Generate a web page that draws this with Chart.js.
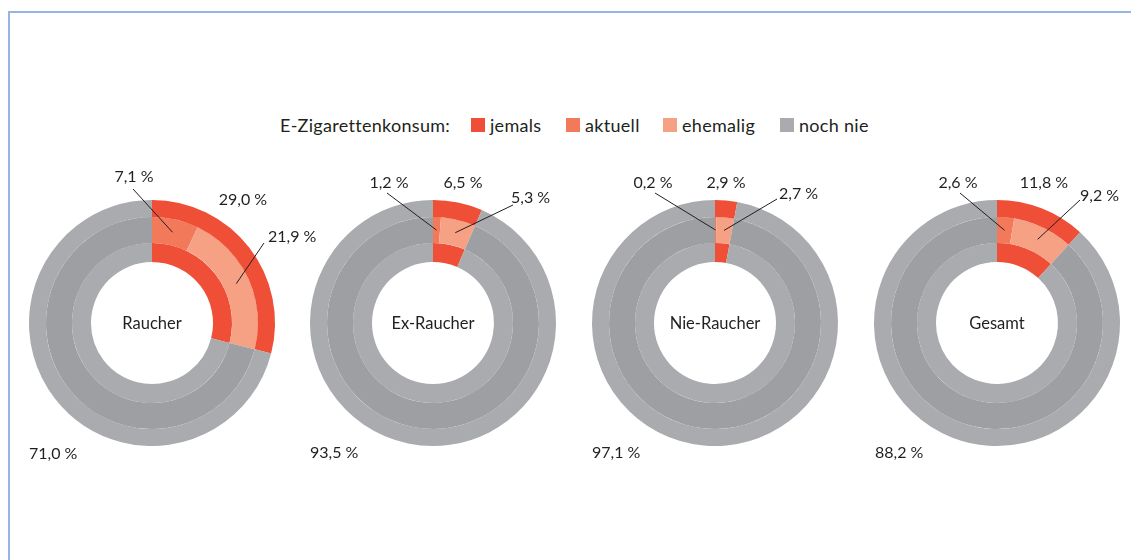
<!DOCTYPE html>
<html lang="de">
<head>
<meta charset="utf-8">
<title>E-Zigarettenkonsum</title>
<script src="https://cdn.jsdelivr.net/npm/chart.js@4.4.1/dist/chart.umd.min.js"></script>
<style>
  html, body { margin: 0; padding: 0; background: #fff; }
  body { width: 1131px; height: 560px; position: relative; overflow: hidden;
         font-family: Lato, "Open Sans", sans-serif; color: #231f20; }
  .frame { position: absolute; left: 8px; top: 11px; right: -10px; bottom: -10px;
           border-left: 2px solid #97b5e4; border-top: 2px solid #97b5e4; }
  .legend { position: absolute; top: 114px; left: 0; font-size: 18px; line-height: 22px;
            letter-spacing: 0.3px; }
  .legend span { position: absolute; white-space: nowrap; }
  .legend .box { width: 14px; height: 14px; top: 4px; }
  canvas { position: absolute; top: 150px; }
</style>
</head>
<body>
<div class="frame"></div>
<div class="legend" id="legend"></div>
<canvas id="c0" width="310" height="320"></canvas>
<canvas id="c1" width="310" height="320"></canvas>
<canvas id="c2" width="310" height="320"></canvas>
<canvas id="c3" width="310" height="320"></canvas>

<script>
// Daten (Anteile in %)
const gruppen  = ['Raucher', 'Ex-Raucher', 'Nie-Raucher', 'Gesamt'];
const jemals   = [29.0, 6.5, 2.9, 11.8];
const aktuell  = [7.1, 1.2, 0.2, 2.6];
const ehemalig = [21.9, 5.3, 2.7, 9.2];
const nochNie  = [71.0, 93.5, 97.1, 88.2];

const legendTitle = 'E-Zigarettenkonsum:';
const legendLabels = ['jemals', 'aktuell', 'ehemalig', 'noch nie'];

// Farben
const ROT = '#ef4e37';
const ORANGE = '#f27a5b';
const LACHS = '#f6a084';
const GRAU_HELL = '#aaabae';
const GRAU_DUNKEL = '#9e9fa3';
const legendColors = [ROT, ORANGE, LACHS, GRAU_HELL];

// Mittelpunkte der Ringe (x) - y ist für alle gleich
const centersX = [152, 433, 715, 997];

// Position der Beschriftungen relativ zum Mittelpunkt
// ds = Ring (0 außen, 1 Mitte, 2 innen), i = Segment
const labelLayout = [
  [
    { ds: 1, i: 0, x: -18, y: -146, align: 'center', from: [-19, -134] },
    { ds: 0, i: 0, x: 91,  y: -123, align: 'center' },
    { ds: 1, i: 1, x: 116, y: -86,  align: 'left', from: [112, -80] },
    { ds: 0, i: 1, x: -123, y: 131, align: 'left' }
  ],
  [
    { ds: 1, i: 0, x: -44, y: -140, align: 'center', from: [-46, -130] },
    { ds: 0, i: 0, x: 30,  y: -140, align: 'center' },
    { ds: 1, i: 1, x: 78,  y: -125, align: 'left', from: [80, -118] },
    { ds: 0, i: 1, x: -123, y: 130, align: 'left' }
  ],
  [
    { ds: 1, i: 0, x: -62, y: -140, align: 'center', from: [-60, -130] },
    { ds: 0, i: 0, x: 11,  y: -140, align: 'center' },
    { ds: 1, i: 1, x: 64,  y: -129, align: 'left', from: [62, -124] },
    { ds: 0, i: 1, x: -123, y: 130, align: 'left' }
  ],
  [
    { ds: 1, i: 0, x: -39, y: -140, align: 'center', from: [-37, -130] },
    { ds: 0, i: 0, x: 47,  y: -140, align: 'center' },
    { ds: 1, i: 1, x: 83,  y: -127, align: 'left', from: [83, -123] },
    { ds: 0, i: 1, x: -122, y: 130, align: 'left' }
  ]
];

function fmt(v) {
  return v.toFixed(1).replace('.', ',') + ' %';
}

// Legende als HTML
function buildLegend() {
  const el = document.getElementById('legend');
  const title = document.createElement('span');
  title.textContent = legendTitle;
  title.style.left = '280px';
  el.appendChild(title);
  const boxX = [471, 566, 663, 780];
  legendLabels.forEach((lab, k) => {
    const box = document.createElement('span');
    box.className = 'box';
    box.style.left = boxX[k] + 'px';
    box.style.background = legendColors[k];
    el.appendChild(box);
    const txt = document.createElement('span');
    txt.textContent = lab;
    txt.style.left = (boxX[k] + 19) + 'px';
    el.appendChild(txt);
  });
}

// Plugin für Prozentwerte, Hinweislinien und Mitteltext
const labelPlugin = {
  id: 'ringLabels',
  afterDraw(chart) {
    const ctx = chart.ctx;
    const idx = chart.options.plugins.ringLabels.index;
    const first = chart.getDatasetMeta(0).data[0];
    const cx = first.x, cy = first.y;

    ctx.save();
    ctx.fillStyle = '#231f20';
    ctx.strokeStyle = '#231f20';
    ctx.lineWidth = 1;
    ctx.textBaseline = 'middle';

    // Mitteltext
    ctx.font = '16.5px Lato, "Open Sans", sans-serif';
    ctx.textAlign = 'center';
    ctx.fillText(gruppen[idx], cx, cy + 1);

    ctx.font = '16px Lato, "Open Sans", sans-serif';
    labelLayout[idx].forEach(l => {
      const value = chart.data.datasets[l.ds].data[l.i];
      ctx.textAlign = l.align;
      ctx.fillText(fmt(value), cx + l.x, cy + l.y);
      if (l.from) {
        const arc = chart.getDatasetMeta(l.ds).data[l.i];
        const mid = (arc.startAngle + arc.endAngle) / 2;
        const r = (arc.innerRadius + arc.outerRadius) / 2;
        ctx.beginPath();
        ctx.moveTo(cx + l.from[0], cy + l.from[1]);
        ctx.lineTo(cx + Math.cos(mid) * r, cy + Math.sin(mid) * r);
        ctx.stroke();
      }
    });
    ctx.restore();
  }
};

function makeChart(k) {
  const canvas = document.getElementById('c' + k);
  canvas.style.left = (centersX[k] - 140) + 'px';
  new Chart(canvas, {
    type: 'doughnut',
    data: {
      labels: ['a', 'b', 'c'],
      datasets: [
        { data: [jemals[k], nochNie[k]], backgroundColor: [ROT, GRAU_HELL], weight: 17 },
        { data: [aktuell[k], ehemalig[k], nochNie[k]], backgroundColor: [ORANGE, LACHS, GRAU_DUNKEL], weight: 26 },
        { data: [jemals[k], nochNie[k]], backgroundColor: [ROT, GRAU_HELL], weight: 19 }
      ]
    },
    options: {
      responsive: false,
      animation: false,
      events: [],
      cutout: '49.6%',
      borderWidth: 0,
      elements: { arc: { borderWidth: 0, hoverBorderWidth: 0, borderColor: 'transparent' } },
      layout: { padding: { left: 17, top: 50, right: 47, bottom: 24 } },
      plugins: {
        legend: { display: false },
        tooltip: { enabled: false },
        ringLabels: { index: k }
      }
    },
    plugins: [labelPlugin]
  });
}

buildLegend();
gruppen.forEach((g, k) => makeChart(k));
</script>
</body>
</html>
